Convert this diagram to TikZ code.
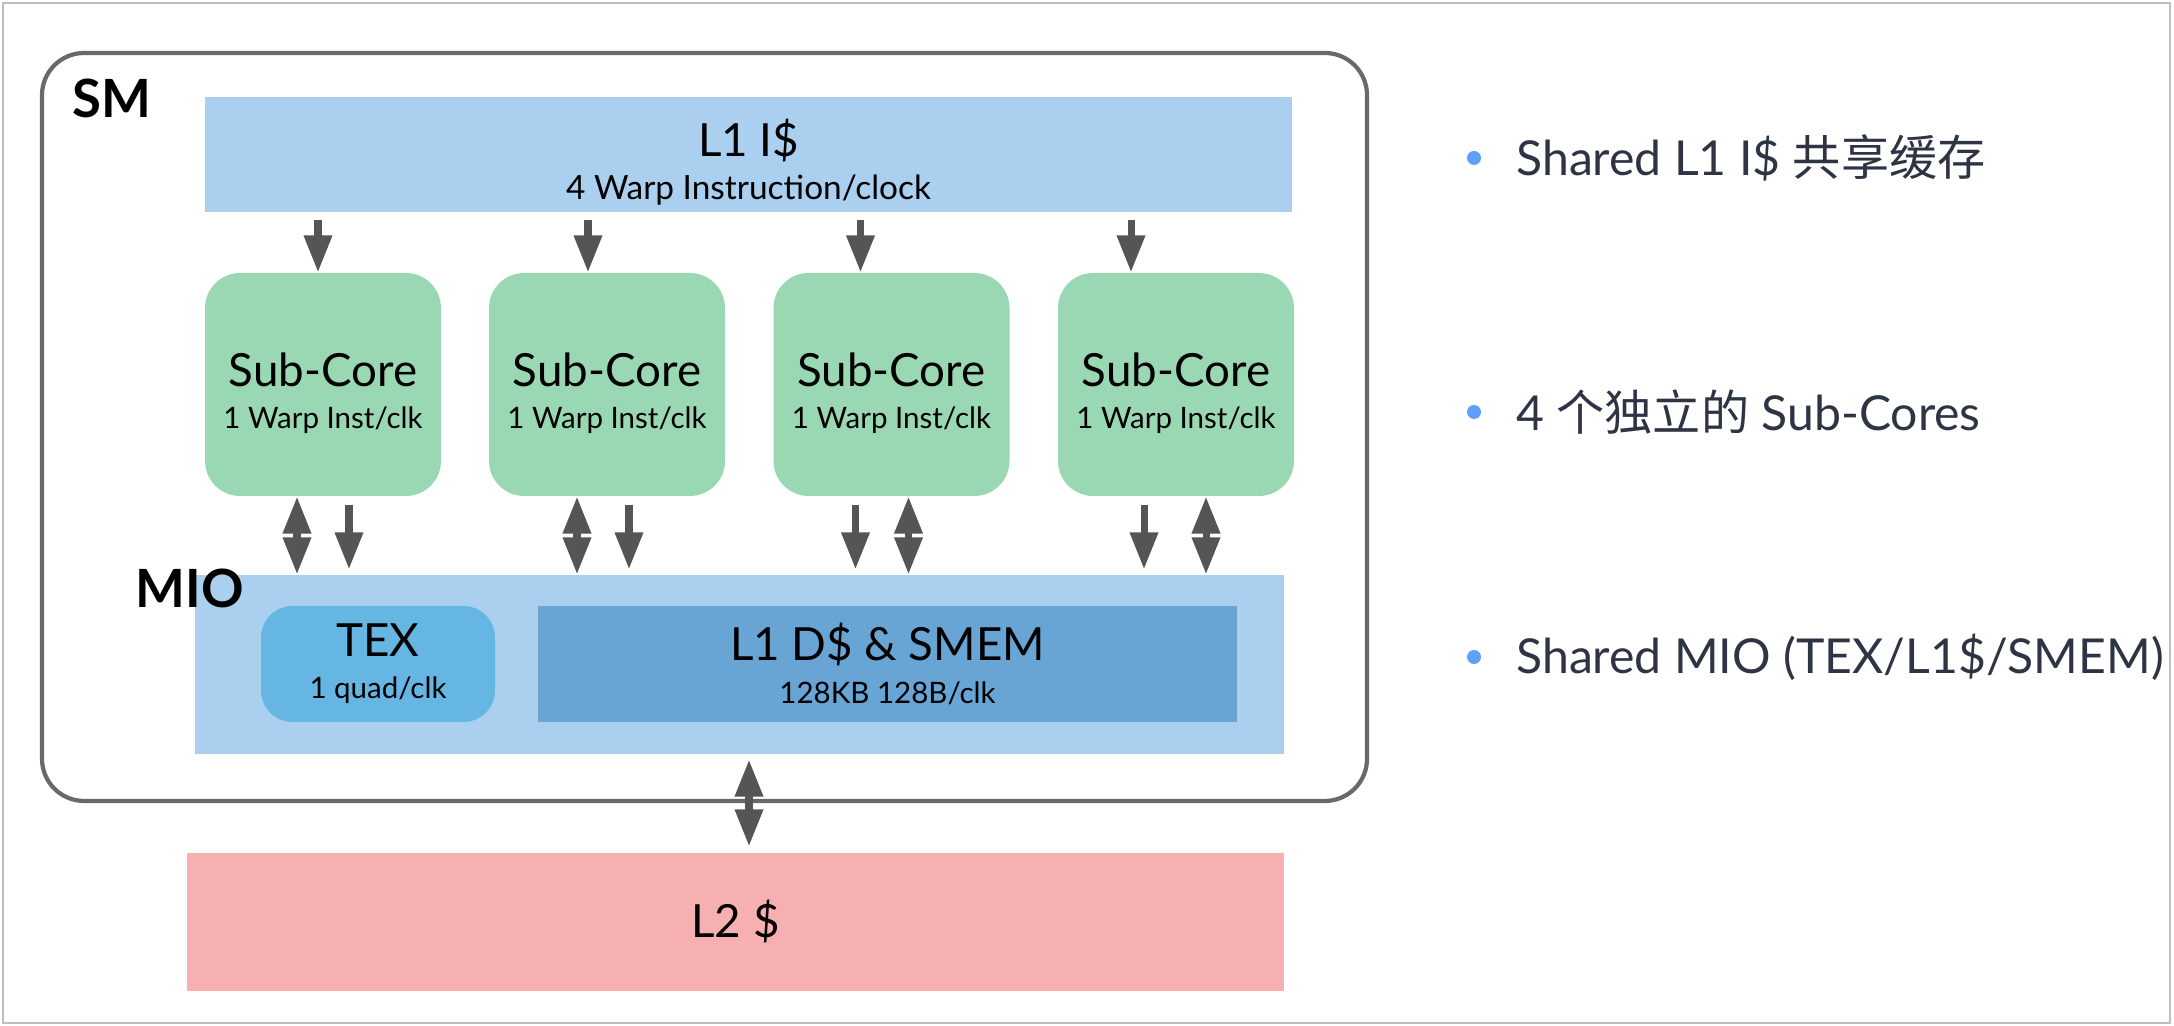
\documentclass[tikz,border=0pt]{standalone}
\usepackage{fontspec}
\setmainfont{Lato}
\newfontfamily\cjk{Noto Sans CJK SC}
\usetikzlibrary{arrows.meta, positioning}
\definecolor{icachecolor}{RGB}{170, 207, 239}
\definecolor{corecolor}{RGB}{154, 216, 180}
\definecolor{texcolor}{RGB}{102, 182, 227}
\definecolor{dcachecolor}{RGB}{104, 165, 213}
\definecolor{ltwocolor}{RGB}{246, 176, 178}
\definecolor{arrowcolor}{RGB}{85, 85, 85}
\definecolor{framecolor}{RGB}{105, 105, 105}
\definecolor{pointcolor}{RGB}{46, 52, 68}
\definecolor{dotcolor}{RGB}{95, 160, 250}
\newcommand{\subline}[1]{{\fontsize{8.4}{11}\selectfont #1}}

\begin{document}
\begin{tikzpicture}[
    block/.style={inner sep=0pt, align=center, font=\fontsize{13}{12}\selectfont},
    cache/.style={block, minimum height=1.16cm},
    subcore/.style={block, fill=corecolor, rounded corners=10pt, minimum width=2.36cm, minimum height=2.23cm, text height=0.94cm},
    tag/.style={font=\fontsize{15}{17}\selectfont\bfseries},
    arr/.style={draw=arrowcolor, line width=2pt, -{Triangle[length=0.37cm, width=0.27cm]}},
    darr/.style={draw=arrowcolor, line width=2pt, {Triangle[length=0.37cm, width=0.27cm]}-{Triangle[length=0.37cm, width=0.27cm]}},
    dot/.style={circle, fill=dotcolor, inner sep=0pt, minimum size=0.14cm},
    point/.style={text=pointcolor, inner sep=0pt, font=\fontsize{13.7}{17}\selectfont},
]
    \useasboundingbox (0,0) rectangle (21.74,10.26);
    \draw[black!25, line width=0.8pt] (0.03,0.03) rectangle (21.70,10.23);

    % SM frame
    \node[draw=framecolor, line width=1.2pt, rounded corners=12pt, minimum width=13.25cm, minimum height=7.48cm] (sm) at (7.045, 5.99) {};
    \node[tag] (smlabel) at (1.12, 9.28) {SM};

    % L1 instruction cache
    \node[cache, fill=icachecolor, minimum width=10.87cm, minimum height=1.15cm, text height=0.95cm] (icache) at (7.485, 8.715) {L1 I\$\\{\fontsize{9.5}{11}\selectfont 4 Warp Instruction/clock}};

    % Sub-cores
    \foreach \i/\x in {1/3.23, 2/6.07, 3/8.915, 4/11.76}
        \node[subcore] (core\i) at (\x, 6.415) {Sub-Core\\\subline{1 Warp Inst/clk}};

    % MIO
    \node[cache, fill=icachecolor, minimum width=10.89cm, minimum height=1.79cm] (mio) at (7.395, 3.615) {};
    \node[tag] (miolabel) at (1.9, 4.38) {MIO};
    \node[cache, fill=texcolor, rounded corners=9pt, minimum width=2.34cm] (tex) at (3.78, 3.62) {TEX\\\subline{1 quad/clk}};
    \node[cache, fill=dcachecolor, minimum width=6.99cm] (dcache) at (8.875, 3.62) {L1 D\$ \& SMEM\\\subline{128KB 128B/clk}};

    % L2
    \node[block, fill=ltwocolor, minimum width=10.97cm, minimum height=1.38cm] (ltwo) at (7.355, 1.04) {L2 \$};

    % Arrows
    \foreach \i/\dx in {1/-0.05, 2/-0.19, 3/-0.31, 4/-0.45}
        \draw[arr, shorten <=0.07cm] ([xshift=\dx cm]core\i.north |- icache.south) -- ([xshift=\dx cm]core\i.north);
    \foreach \i/\da/\sa in {1/-0.26/0.26, 2/-0.30/0.22, 3/0.17/-0.36, 4/0.30/-0.32} {
        \draw[darr] ([xshift=\da cm]core\i.south) -- ([xshift=\da cm]core\i.south |- mio.north);
        \draw[arr, shorten <=0.08cm, shorten >=0.05cm] ([xshift=\sa cm]core\i.south) -- ([xshift=\sa cm]core\i.south |- mio.north);
    }
    \draw[darr, shorten <=0.05cm, shorten >=0.06cm] ([xshift=0.95mm]mio.south) -- ([xshift=0.95mm]mio.south |- ltwo.north);

    % Bullet points
    \node[dot] (dot1) at (14.74, 8.68) {};
    \node[point, right=0.34cm of dot1] (point1) {Shared L1 I\$ {\cjk 共享缓存}};
    \node[dot] (dot2) at (14.74, 6.14) {};
    \node[point, right=0.34cm of dot2] (point2) {4 {\cjk 个独立的} Sub-Cores};
    \node[dot] (dot3) at (14.74, 3.69) {};
    \node[point, right=0.34cm of dot3] (point3) {Shared MIO (TEX/L1\$/SMEM)};
\end{tikzpicture}
\end{document}
